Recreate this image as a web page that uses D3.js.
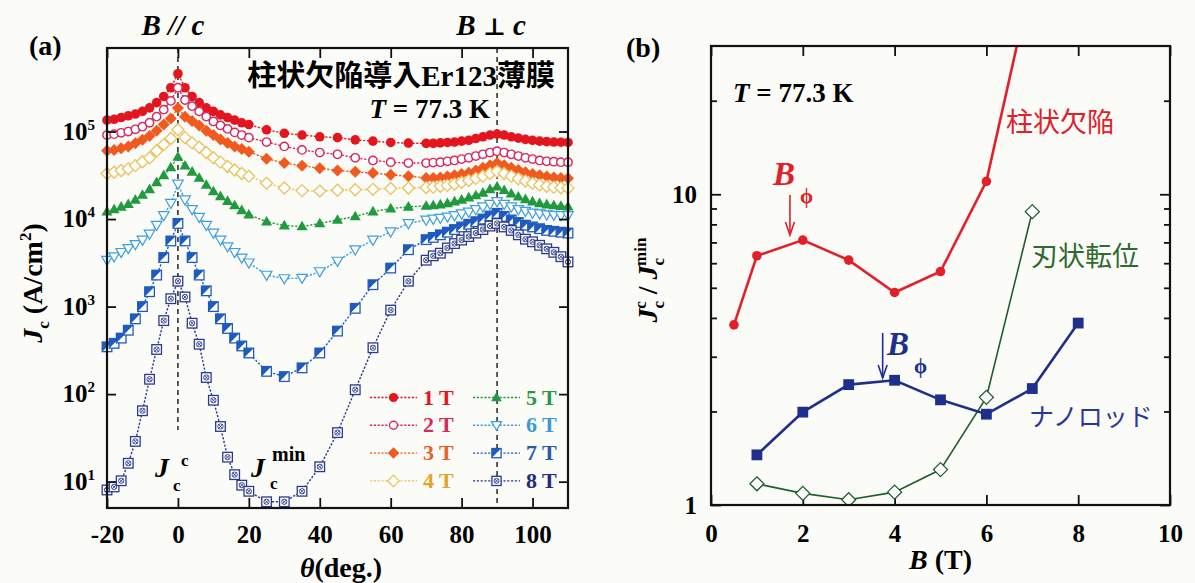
<!DOCTYPE html>
<html>
<head>
<meta charset="utf-8">
<script src="https://cdn.jsdelivr.net/npm/d3@7"></script>
<style>
  body { margin: 0; background: #fbfbf8; }
  svg text { font-family: "Liberation Serif", "Times New Roman", serif; font-weight: bold; }
  svg text.jp { font-family: "Noto Sans CJK JP", sans-serif; font-weight: 400; }
</style>
</head>
<body>
<svg id="chart" width="1195" height="583"></svg>
<script>
// ---- data: panel (a), Jc(theta) at 77.3 K, log10 of Jc in A/cm2
var thetaDeg = [-20,-18,-16,-14,-12,-10,-8,-6,-4,-2,0,2,4,6,8,10,12,14,16,18,20,
  25,30,35,40,45,50,55,60,65,
  70,72,74,76,78,80,82,84,86,88,90,92,94,96,98,100,102,104,106,108,110];

var fieldNames = ['1 T', '2 T', '3 T', '4 T', '5 T', '6 T', '7 T', '8 T'];

var logJc1T = [5.13,5.14,5.16,5.18,5.20,5.23,5.27,5.33,5.40,5.50,5.66,5.50,5.40,5.33,5.27,5.23,5.19,5.16,5.13,5.10,5.08,
  5.02,4.98,4.96,4.94,4.93,4.905,4.89,4.875,4.867,
  4.865,4.865,4.87,4.875,4.88,4.89,4.90,4.92,4.94,4.96,4.97,4.96,4.94,4.925,4.91,4.90,4.89,4.885,4.88,4.878,4.875];
var logJc2T = [4.96,4.97,4.985,5.00,5.025,5.055,5.10,5.17,5.25,5.35,5.50,5.36,5.29,5.23,5.17,5.115,5.07,5.03,4.99,4.96,4.93,
  4.88,4.83,4.79,4.76,4.74,4.70,4.67,4.65,4.64,
  4.64,4.645,4.65,4.66,4.67,4.685,4.70,4.72,4.74,4.76,4.775,4.76,4.74,4.72,4.70,4.685,4.67,4.66,4.655,4.65,4.65];
var logJc3T = [4.78,4.79,4.81,4.83,4.865,4.905,4.95,5.01,5.08,5.15,5.27,5.17,5.12,5.07,5.01,4.96,4.91,4.87,4.83,4.80,4.77,
  4.69,4.64,4.61,4.58,4.555,4.54,4.525,4.505,4.49,
  4.47,4.47,4.475,4.485,4.50,4.515,4.53,4.555,4.585,4.615,4.64,4.615,4.585,4.56,4.535,4.515,4.50,4.485,4.475,4.47,4.467];
var logJc4T = [4.52,4.535,4.555,4.575,4.61,4.655,4.70,4.78,4.85,4.92,5.02,4.93,4.87,4.82,4.76,4.70,4.65,4.60,4.56,4.52,4.49,
  4.41,4.355,4.325,4.32,4.33,4.335,4.34,4.35,4.355,
  4.36,4.365,4.375,4.385,4.40,4.42,4.44,4.465,4.49,4.52,4.545,4.52,4.49,4.46,4.435,4.41,4.39,4.375,4.365,4.357,4.353];
var logJc5T = [4.085,4.11,4.14,4.17,4.22,4.275,4.34,4.42,4.50,4.59,4.71,4.61,4.54,4.47,4.39,4.315,4.26,4.205,4.155,4.10,4.05,
  3.97,3.925,3.915,3.95,3.99,4.03,4.085,4.12,4.14,
  4.15,4.155,4.165,4.18,4.20,4.22,4.245,4.27,4.30,4.34,4.37,4.33,4.29,4.255,4.225,4.20,4.18,4.165,4.155,4.148,4.143];
var logJc6T = [3.53,3.57,3.62,3.665,3.71,3.76,3.83,3.93,4.04,4.18,4.40,4.22,4.11,4.02,3.93,3.84,3.76,3.685,3.62,3.555,3.50,
  3.36,3.32,3.325,3.40,3.52,3.65,3.76,3.855,3.95,
  3.99,4.00,4.01,4.025,4.04,4.06,4.08,4.11,4.14,4.17,4.20,4.17,4.14,4.11,4.09,4.07,4.06,4.05,4.045,4.04,4.04];
var logJc7T = [2.54,2.58,2.64,2.73,2.86,3.00,3.17,3.36,3.56,3.75,3.95,3.75,3.56,3.36,3.18,3.00,2.86,2.75,2.64,2.55,2.47,
  2.26,2.20,2.30,2.47,2.72,2.98,3.25,3.44,3.65,
  3.765,3.79,3.82,3.85,3.88,3.91,3.94,3.97,4.00,4.035,4.065,4.03,3.99,3.96,3.93,3.91,3.89,3.87,3.86,3.85,3.84];
var logJc8T = [0.905,0.94,1.01,1.21,1.46,1.81,2.17,2.51,2.84,3.09,3.29,3.11,2.81,2.57,2.19,1.93,1.63,1.28,1.08,0.96,0.89,
  0.77,0.77,0.89,1.17,1.56,2.05,2.53,2.96,3.29,
  3.53,3.58,3.61,3.67,3.72,3.76,3.80,3.84,3.88,3.92,3.95,3.91,3.87,3.82,3.77,3.74,3.70,3.66,3.62,3.57,3.51];

var decadeTicks = [10, 100, 1e3, 1e4, 1e5];

// ---- data: panel (b), Jc^c / Jc^min against B
var fieldColumnar = [0.5, 1, 2, 3, 4, 5, 6, 7];
var ratioColumnar = [3.8, 6.34, 7.12, 6.14, 4.83, 5.64, 11.0, 50];
var fieldNanorod = [1, 2, 3, 4, 5, 6, 7, 8];
var ratioNanorod = [1.45, 1.99, 2.44, 2.52, 2.18, 1.96, 2.37, 3.85];
var fieldEdge = [1, 2, 3, 4, 5, 6, 7];
var ratioEdge = [1.17, 1.09, 1.04, 1.10, 1.30, 2.22, 8.79];

var svg = d3.select('#chart');

// ---------------- panel (a) ----------------
var pa = {l: 107, r: 568, t: 48, b: 508};
var xA = d3.scaleLinear().domain([-20, 110]).range([pa.l, pa.r]);
var yA = d3.scaleLog().domain([5, 9e5]).range([pa.b, pa.t]);

var seriesA = [
  {logJc: logJc1T, color: '#e3161f', text: '#e3161f', mark: 'circle'},
  {logJc: logJc2T, color: '#d8285e', text: '#d42a5a', mark: 'circleOpen'},
  {logJc: logJc3T, color: '#f05a1e', text: '#e8602a', mark: 'diamond'},
  {logJc: logJc4T, color: '#e9c35c', text: '#e0a52a', mark: 'diamondOpen'},
  {logJc: logJc5T, color: '#1f9a3e', text: '#2a9a3c', mark: 'triUp'},
  {logJc: logJc6T, color: '#3c9ee0', text: '#3a9ad8', mark: 'triDown'},
  {logJc: logJc7T, color: '#1f5bbf', text: '#2a5ab0', mark: 'squareHalf'},
  {logJc: logJc8T, color: '#2b3a8c', text: '#1e2e80', mark: 'squareX'}
];

function drawMark(g, kind, color, s) {
  if (kind === 'circle') {
    g.append('circle').attr('r', s).attr('fill', color);
  } else if (kind === 'circleOpen') {
    g.append('circle').attr('r', s - 0.6).attr('fill', '#fff').attr('stroke', color).attr('stroke-width', 1.4);
  } else if (kind === 'diamond' || kind === 'diamondOpen') {
    var k = s * 1.25;
    var p = g.append('path').attr('d', 'M0,' + (-k) + 'L' + k + ',0L0,' + k + 'L' + (-k) + ',0Z');
    if (kind === 'diamond') p.attr('fill', color);
    else p.attr('fill', '#fff').attr('stroke', color).attr('stroke-width', 1.3);
  } else if (kind === 'triUp') {
    g.append('path').attr('d', 'M0,' + (-s * 1.2) + 'L' + (s * 1.15) + ',' + (s * 0.8) + 'L' + (-s * 1.15) + ',' + (s * 0.8) + 'Z')
      .attr('fill', color);
  } else if (kind === 'triDown') {
    g.append('path').attr('d', 'M0,' + (s * 1.1) + 'L' + (s * 1.1) + ',' + (-s * 0.8) + 'L' + (-s * 1.1) + ',' + (-s * 0.8) + 'Z')
      .attr('fill', '#fff').attr('stroke', color).attr('stroke-width', 1.2);
  } else if (kind === 'squareHalf') {
    g.append('rect').attr('x', -s).attr('y', -s).attr('width', 2 * s).attr('height', 2 * s)
      .attr('fill', '#fff').attr('stroke', color).attr('stroke-width', 1.3);
    g.append('path').attr('d', 'M' + (-s) + ',' + (-s) + 'L' + s + ',' + (-s) + 'L' + (-s) + ',' + s + 'Z').attr('fill', color);
  } else if (kind === 'squareX') {
    g.append('rect').attr('x', -s).attr('y', -s).attr('width', 2 * s).attr('height', 2 * s)
      .attr('fill', '#fff').attr('stroke', color).attr('stroke-width', 1.3);
    g.append('circle').attr('r', s * 0.55).attr('fill', 'none').attr('stroke', color).attr('stroke-width', 0.9);
    var q = s * 0.42;
    g.append('path').attr('d', 'M' + (-q) + ',' + (-q) + 'L' + q + ',' + q + 'M' + q + ',' + (-q) + 'L' + (-q) + ',' + q)
      .attr('stroke', color).attr('stroke-width', 0.9);
  } else if (kind === 'square') {
    g.append('rect').attr('x', -s).attr('y', -s).attr('width', 2 * s).attr('height', 2 * s).attr('fill', color);
  }
}

// dashed guides for B // c and B perp c
svg.append('line').attr('x1', xA(0)).attr('x2', xA(0)).attr('y1', pa.t).attr('y2', 430)
  .attr('stroke', '#222').attr('stroke-width', 1.5).attr('stroke-dasharray', '5,4');
svg.append('line').attr('x1', xA(90)).attr('x2', xA(90)).attr('y1', pa.t).attr('y2', pa.b)
  .attr('stroke', '#222').attr('stroke-width', 1.5).attr('stroke-dasharray', '5,4');

var lineA = d3.line()
  .x(function(d, i) { return xA(thetaDeg[i]); })
  .y(function(d) { return yA(Math.pow(10, d)); });

seriesA.forEach(function(s) {
  var g = svg.append('g');
  g.append('path').datum(s.logJc).attr('d', lineA)
    .attr('fill', 'none').attr('stroke', s.color).attr('stroke-width', 1.4).attr('stroke-dasharray', '2.2,1.6');
  g.selectAll('g.pt').data(s.logJc).join('g').attr('class', 'pt')
    .attr('transform', function(d, i) { return 'translate(' + xA(thetaDeg[i]) + ',' + yA(Math.pow(10, d)) + ')'; })
    .each(function() { drawMark(d3.select(this), s.mark, s.color, 4.8); });
});

// axes (a)
function styleAxis(g, size) {
  g.attr('font-family', '"Liberation Serif", serif').attr('font-size', size).attr('font-weight', 'bold');
  g.select('.domain').remove();
  g.selectAll('.tick line').attr('stroke', '#111').attr('stroke-width', 1.8);
}
var plainNum = function(d) { return String(d); };
var xTicksA = [-20, 0, 20, 40, 60, 80, 100];
svg.append('g').attr('transform', 'translate(0,' + pa.b + ')')
  .call(d3.axisBottom(xA).tickValues(xTicksA).tickSizeInner(-10).tickSizeOuter(0).tickPadding(17).tickFormat(plainNum))
  .call(function(g) { styleAxis(g, 25); });
svg.append('g').attr('transform', 'translate(0,' + pa.t + ')')
  .call(d3.axisTop(xA).tickValues(xTicksA).tickSizeInner(-10).tickSizeOuter(0).tickFormat(''))
  .call(function(g) { styleAxis(g, 25); });
svg.append('g').attr('transform', 'translate(' + pa.l + ',0)')
  .call(d3.axisLeft(yA).tickValues(decadeTicks).tickSizeInner(-9).tickSizeOuter(0).tickFormat(''))
  .call(function(g) { styleAxis(g, 25); });
svg.append('g').attr('transform', 'translate(' + pa.r + ',0)')
  .call(d3.axisRight(yA).tickValues(decadeTicks).tickSizeInner(-9).tickSizeOuter(0).tickFormat(''))
  .call(function(g) { styleAxis(g, 25); });

decadeTicks.forEach(function(v) {
  var t = svg.append('text').attr('x', 95).attr('y', yA(v) + 8).attr('text-anchor', 'end').attr('font-size', 25);
  t.append('tspan').text('10');
  t.append('tspan').attr('font-size', 15).attr('dy', -10).text(Math.round(Math.log10(v)));
});

svg.append('rect').attr('x', pa.l).attr('y', pa.t).attr('width', pa.r - pa.l).attr('height', pa.b - pa.t)
  .attr('fill', 'none').attr('stroke', '#111').attr('stroke-width', 2.2);

// legend (a)
fieldNames.forEach(function(name, i) {
  var s = seriesA[i];
  var col = i < 4 ? 0 : 1, row = i % 4;
  var x0 = col === 0 ? 370 : 473, xm = x0 + 23.5, y = 397.5 + row * 27.8;
  svg.append('line').attr('x1', x0).attr('x2', x0 + 47).attr('y1', y).attr('y2', y)
    .attr('stroke', s.color).attr('stroke-width', 1.4).attr('stroke-dasharray', '2.2,1.6');
  drawMark(svg.append('g').attr('transform', 'translate(' + xm + ',' + y + ')'), s.mark, s.color, 4.6);
  svg.append('text').attr('x', x0 + 53).attr('y', y + 7).attr('font-size', 22).attr('fill', s.text).text(name);
});

// labels (a)
svg.append('text').attr('x', 29).attr('y', 55).attr('font-size', 28).text('(a)');
svg.append('text').attr('x', xA(0) - 5).attr('y', 35).attr('text-anchor', 'middle').attr('font-size', 29)
  .attr('font-style', 'italic').text('B // c');
svg.append('text').attr('x', xA(90) - 6).attr('y', 35).attr('text-anchor', 'middle').attr('font-size', 29)
  .call(function(t) {
    t.append('tspan').attr('font-style', 'italic').text('B ');
    t.append('tspan').attr('font-family', '"DejaVu Serif", serif').attr('font-size', 24).text('\u22a5');
    t.append('tspan').attr('font-style', 'italic').text(' c');
  });

var title = svg.append('text').attr('x', 555).attr('y', 86).attr('text-anchor', 'end').attr('font-size', 29);
title.append('tspan').attr('font-family', '"Noto Sans CJK JP", sans-serif').attr('font-weight', 700).text('柱状欠陥導入');
title.append('tspan').text('Er123');
title.append('tspan').attr('font-family', '"Noto Sans CJK JP", sans-serif').attr('font-weight', 700).text('薄膜');

svg.append('text').attr('x', 490).attr('y', 118).attr('text-anchor', 'end').attr('font-size', 27)
  .call(function(t) {
    t.append('tspan').attr('font-style', 'italic').text('T');
    t.append('tspan').text(' = 77.3 K');
  });

// J_c^c and J_c^min markers on the 8 T curve
svg.append('text').attr('x', 155).attr('y', 477).attr('font-size', 28).attr('font-style', 'italic').text('J');
svg.append('text').attr('x', 181).attr('y', 466).attr('font-size', 17).text('c');
svg.append('text').attr('x', 173).attr('y', 491).attr('font-size', 17).text('c');
svg.append('text').attr('x', 251).attr('y', 477).attr('font-size', 28).attr('font-style', 'italic').text('J');
svg.append('text').attr('x', 272).attr('y', 461).attr('font-size', 20).text('min');
svg.append('text').attr('x', 270).attr('y', 489).attr('font-size', 17).text('c');

// axis titles (a)
svg.append('text').attr('x', 341).attr('y', 577).attr('text-anchor', 'middle').attr('font-size', 28)
  .call(function(t) {
    t.append('tspan').attr('font-style', 'italic').text('\u03b8');
    t.append('tspan').text('(deg.)');
  });
svg.append('text').attr('transform', 'translate(42,283) rotate(-90)').attr('text-anchor', 'middle').attr('font-size', 28)
  .call(function(t) {
    t.append('tspan').attr('font-style', 'italic').text('J');
    t.append('tspan').attr('font-size', 17).attr('dy', 7).text('c');
    t.append('tspan').attr('dy', -7).text(' (A/cm');
    t.append('tspan').attr('font-size', 17).attr('dy', -11).text('2');
    t.append('tspan').attr('dy', 11).text(')');
  });

// ---------------- panel (b) ----------------
var pb = {l: 711, r: 1170, t: 46, b: 505};
var xB = d3.scaleLinear().domain([0, 10]).range([pb.l, pb.r]);
var yB = d3.scaleLog().domain([1, 30]).range([pb.b, pb.t]);

var xTicksB = [0, 2, 4, 6, 8, 10];
var majorB = [1, 10];
var minorB = [2, 3, 4, 5, 6, 7, 8, 9, 20];
svg.append('g').attr('transform', 'translate(0,' + pb.b + ')')
  .call(d3.axisBottom(xB).tickValues(xTicksB).tickSizeInner(-10).tickSizeOuter(0).tickPadding(19).tickFormat(plainNum))
  .call(function(g) { styleAxis(g, 25); });
svg.append('g').attr('transform', 'translate(0,' + pb.t + ')')
  .call(d3.axisTop(xB).tickValues(xTicksB).tickSizeInner(-10).tickSizeOuter(0).tickFormat(''))
  .call(function(g) { styleAxis(g, 25); });
svg.append('g').attr('transform', 'translate(' + pb.l + ',0)')
  .call(d3.axisLeft(yB).tickValues(majorB).tickSizeInner(-10).tickSizeOuter(0).tickPadding(14).tickFormat(plainNum))
  .call(function(g) { styleAxis(g, 25); });
svg.append('g').attr('transform', 'translate(' + pb.l + ',0)')
  .call(d3.axisLeft(yB).tickValues(minorB).tickSizeInner(-6).tickSizeOuter(0).tickFormat(''))
  .call(function(g) { styleAxis(g, 25); });
svg.append('g').attr('transform', 'translate(' + pb.r + ',0)')
  .call(d3.axisRight(yB).tickValues(majorB).tickSizeInner(-10).tickSizeOuter(0).tickFormat(''))
  .call(function(g) { styleAxis(g, 25); });
svg.append('g').attr('transform', 'translate(' + pb.r + ',0)')
  .call(d3.axisRight(yB).tickValues(minorB).tickSizeInner(-6).tickSizeOuter(0).tickFormat(''))
  .call(function(g) { styleAxis(g, 25); });

svg.append('clipPath').attr('id', 'clipB').append('rect')
  .attr('x', pb.l).attr('y', pb.t).attr('width', pb.r - pb.l).attr('height', pb.b - pb.t);

var seriesB = [
  {b: fieldEdge, r: ratioEdge, color: '#1d5e2b', width: 1.6, mark: 'diamondOpen', size: 5.6},
  {b: fieldColumnar, r: ratioColumnar, color: '#e3202a', width: 2.6, mark: 'circle', size: 4.8},
  {b: fieldNanorod, r: ratioNanorod, color: '#1e2f8c', width: 2.6, mark: 'square', size: 5.4}
];
seriesB.forEach(function(s) {
  var pts = s.b.map(function(b, i) { return [b, s.r[i]]; });
  var g = svg.append('g').attr('clip-path', 'url(#clipB)');
  g.append('path').datum(pts)
    .attr('d', d3.line().x(function(d) { return xB(d[0]); }).y(function(d) { return yB(d[1]); }))
    .attr('fill', 'none').attr('stroke', s.color).attr('stroke-width', s.width);
  g.selectAll('g.pt').data(pts).join('g').attr('class', 'pt')
    .attr('transform', function(d) { return 'translate(' + xB(d[0]) + ',' + yB(d[1]) + ')'; })
    .each(function() { drawMark(d3.select(this), s.mark, s.color, s.size); });
});

svg.append('rect').attr('x', pb.l).attr('y', pb.t).attr('width', pb.r - pb.l).attr('height', pb.b - pb.t)
  .attr('fill', 'none').attr('stroke', '#111').attr('stroke-width', 2.2);

// annotations (b)
svg.append('text').attr('x', 626).attr('y', 57).attr('font-size', 28).text('(b)');
svg.append('text').attr('x', 733).attr('y', 102).attr('font-size', 27)
  .call(function(t) {
    t.append('tspan').attr('font-style', 'italic').text('T');
    t.append('tspan').text(' = 77.3 K');
  });
svg.append('text').attr('class', 'jp').attr('x', 1006).attr('y', 132).attr('font-size', 27)
  .attr('fill', '#e0202a').text('柱状欠陥');
svg.append('text').attr('class', 'jp').attr('x', 1031).attr('y', 266).attr('font-size', 27)
  .attr('fill', '#2e6b2e').text('刃状転位');
svg.append('text').attr('class', 'jp').attr('x', 1029).attr('y', 426).attr('font-size', 25)
  .attr('fill', '#27389a').text('ナノロッド');

function phiArrow(bx, y0, y1, color, tx, ty) {
  var x = xB(bx);
  svg.append('line').attr('x1', x).attr('x2', x).attr('y1', y0).attr('y2', y1).attr('stroke', color).attr('stroke-width', 1.6);
  svg.append('path').attr('d', 'M' + (x - 4.5) + ',' + (y1 - 13) + 'L' + x + ',' + y1 + 'L' + (x + 4.5) + ',' + (y1 - 13))
    .attr('fill', 'none').attr('stroke', color).attr('stroke-width', 1.6);
  svg.append('text').attr('x', tx).attr('y', ty).attr('font-size', 33).attr('font-style', 'italic').attr('fill', color).text('B');
  svg.append('text').attr('x', tx + 27).attr('y', ty + 18).attr('font-size', 21).attr('fill', color).text('\u03d5');
}
phiArrow(1.72, 195, 235, '#e0202a', 773, 185);
phiArrow(3.74, 333, 378, '#1e2f8c', 887, 355);

// axis titles (b)
svg.append('text').attr('x', xB(5)).attr('y', 569).attr('text-anchor', 'middle').attr('font-size', 28)
  .call(function(t) {
    t.append('tspan').attr('font-style', 'italic').text('B');
    t.append('tspan').text(' (T)');
  });
svg.append('text').attr('transform', 'translate(657,280) rotate(-90)').attr('text-anchor', 'middle').attr('font-size', 28)
  .call(function(t) {
    t.append('tspan').attr('font-style', 'italic').text('J');
    t.append('tspan').attr('font-size', 17).attr('dy', 7).text('c');
    t.append('tspan').attr('font-size', 17).attr('dx', -8).attr('dy', -18).text('c');
    t.append('tspan').attr('dy', 11).text(' / ');
    t.append('tspan').attr('font-style', 'italic').text('J');
    t.append('tspan').attr('font-size', 17).attr('dy', 7).text('c');
    t.append('tspan').attr('font-size', 17).attr('dx', -8).attr('dy', -18).text('min');
  });
</script>
</body>
</html>
